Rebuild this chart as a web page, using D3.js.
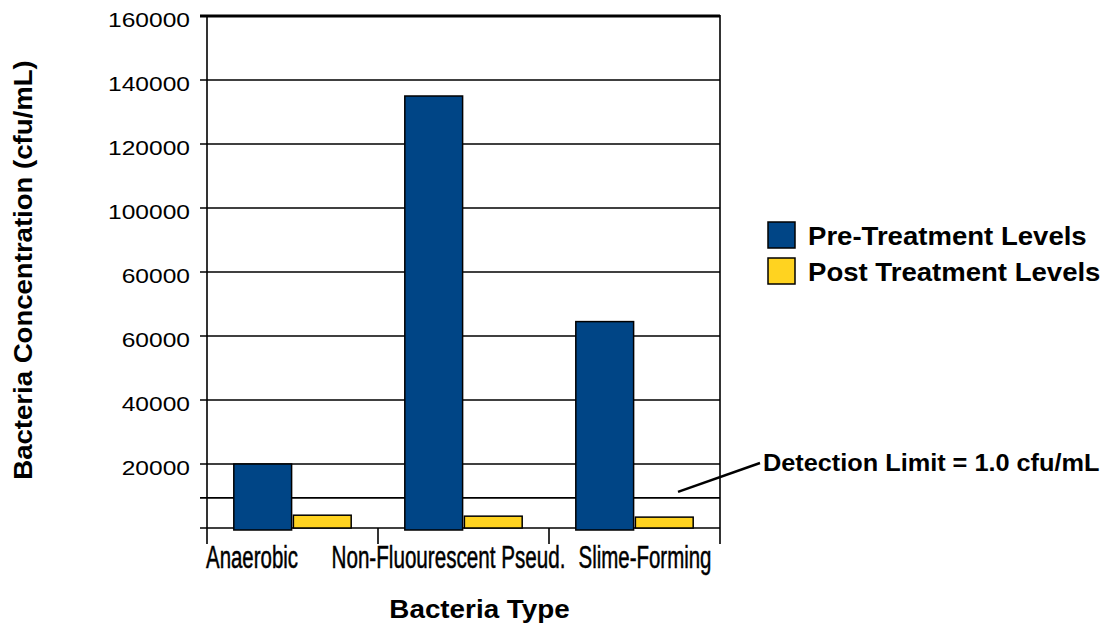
<html>
<head>
<style type="text/css">
	body { margin: 0; background: white; }
	text { font-family: "Liberation Sans", Arial, sans-serif; fill: #000; }
	.grid line { stroke: #000; }
	.bar { stroke: #000; stroke-width: 1.5; }
	.pre { fill: #004586; }
	.post { fill: #ffd320; }
	.tick-label { font-size: 21px; }
	.cat-label { font-family: "Liberation Sans Narrow", "Liberation Sans", sans-serif; font-size: 31px; stroke: #000; stroke-width: 0.5px; }
	.title { font-size: 26px; font-weight: bold; }
	.legend text { font-size: 26px; font-weight: bold; }
</style>
<script src="https://d3js.org/d3.v7.min.js"></script>
</head>
<body>
<script type="text/javascript">
	var categories = ['Anaerobic', 'Non-Fluourescent Pseud.', 'Slime-Forming'];
	var pre_values = [20000, 135000, 64500];
	var post_values = [4000, 3700, 3400];
	var series = ['Pre-Treatment Levels', 'Post Treatment Levels'];
	var tick_values = [20000, 40000, 60000, 80000, 100000, 120000, 140000, 160000];
	// the original labels 80000 as 60000
	var tick_labels = ['20000', '40000', '60000', '60000', '100000', '120000', '140000', '160000'];
	var detection_value = 9400;
	var detection_text = 'Detection Limit = 1.0 cfu/mL';

	function draw() {
		var width = 1106, height = 625;
		var plot_left = 207, plot_right = 720, plot_top = 16, plot_bottom = 528;
		var stretch = 1.17;

		var svg = d3.select('body').append('svg')
			.attr('width', width)
			.attr('height', height);

		var y = d3.scaleLinear().domain([0, 160000]).range([plot_bottom, plot_top]);
		var x = d3.scaleBand().domain(categories).range([plot_left, plot_right]);
		var inner = d3.scaleBand().domain([0, 1]).range([0, x.bandwidth()]).paddingOuter(0.45).paddingInner(0.03);
		// labels sit on their own, slightly wider spacing
		var xl = d3.scalePoint().domain(categories).range([plot_left + 45, plot_right - 75]);

		// grid lines
		var grid = svg.append('g').attr('class', 'grid');
		grid.selectAll('line.h')
			.data([0, detection_value].concat(tick_values))
			.enter().append('line')
			.attr('class', 'h')
			.attr('x1', plot_left - 7)
			.attr('x2', plot_right)
			.attr('y1', function(d) { return y(d); })
			.attr('y2', function(d) { return y(d); })
			.attr('stroke-width', function(d) { return d === 160000 ? 2.8 : 1.6; });

		// axis lines
		grid.append('line').attr('x1', plot_left).attr('x2', plot_left).attr('y1', plot_top).attr('y2', plot_bottom + 16).attr('stroke-width', 1.6);
		grid.append('line').attr('x1', plot_right).attr('x2', plot_right).attr('y1', plot_top - 1).attr('y2', plot_bottom + 16).attr('stroke-width', 1.6);
		grid.selectAll('line.cat')
			.data(categories.slice(1))
			.enter().append('line')
			.attr('class', 'cat')
			.attr('x1', function(d) { return x(d); })
			.attr('x2', function(d) { return x(d); })
			.attr('y1', plot_bottom)
			.attr('y2', plot_bottom + 16)
			.attr('stroke-width', 1.6);

		// y tick labels
		svg.selectAll('text.tick-label')
			.data(tick_values)
			.enter().append('text')
			.attr('class', 'tick-label')
			.attr('transform', function(d) { return 'translate(' + (plot_left - 17) + ',' + (y(d) + 11) + ') scale(' + stretch + ',1)'; })
			.attr('text-anchor', 'end')
			.text(function(d, i) { return tick_labels[i]; });

		// bars
		var groups = svg.selectAll('g.cat')
			.data(categories)
			.enter().append('g')
			.attr('class', 'cat')
			.attr('transform', function(d) { return 'translate(' + x(d) + ',0)'; });

		groups.append('rect')
			.attr('class', 'bar pre')
			.attr('x', inner(0))
			.attr('width', inner.bandwidth())
			.attr('y', function(d, i) { return y(pre_values[i]); })
			.attr('height', function(d, i) { return y(0) - y(pre_values[i]) + 2; });

		groups.append('rect')
			.attr('class', 'bar post')
			.attr('x', inner(1))
			.attr('width', inner.bandwidth())
			.attr('y', function(d, i) { return y(post_values[i]); })
			.attr('height', function(d, i) { return y(0) - y(post_values[i]); });

		// category labels
		var label_widths = [92, 234, 133];
		svg.selectAll('text.cat-label')
			.data(categories)
			.enter().append('text')
			.attr('class', 'cat-label')
			.attr('x', function(d, i) { return xl(d) - label_widths[i] / 2; })
			.attr('y', plot_bottom + 40)
			.attr('textLength', function(d, i) { return label_widths[i]; })
			.attr('lengthAdjust', 'spacingAndGlyphs')
			.text(function(d) { return d; });

		// axis titles
		svg.append('text')
			.attr('class', 'title')
			.attr('transform', 'translate(' + ((plot_left + plot_right) / 2 + 16) + ',618) scale(1.07,1)')
			.attr('text-anchor', 'middle')
			.text('Bacteria Type');

		svg.append('text')
			.attr('class', 'title')
			.attr('transform', 'translate(32,' + 270 + ') rotate(-90) scale(1.06,1)')
			.attr('text-anchor', 'middle')
			.text('Bacteria Concentration (cfu/mL)');

		// legend
		var legend = svg.append('g').attr('class', 'legend').attr('transform', 'translate(768,222)');
		legend.selectAll('rect')
			.data(series)
			.enter().append('rect')
			.attr('class', function(d, i) { return 'bar ' + (i === 0 ? 'pre' : 'post'); })
			.attr('x', 0)
			.attr('y', function(d, i) { return i * 36; })
			.attr('width', 27)
			.attr('height', 26);
		legend.selectAll('text')
			.data(series)
			.enter().append('text')
			.attr('transform', function(d, i) { return 'translate(40,' + (i * 36 + 23) + ') scale(1.06,1)'; })
			.text(function(d) { return d; });

		// detection limit annotation
		svg.append('line')
			.attr('x1', 678).attr('y1', y(detection_value) - 6)
			.attr('x2', 760).attr('y2', 463)
			.attr('stroke', '#000').attr('stroke-width', 2.5);
		svg.append('text')
			.attr('transform', 'translate(763,471) scale(1.1,1)')
			.attr('font-size', '23px')
			.attr('font-weight', 'bold')
			.text(detection_text);
	}

	draw();
</script>
</body>
</html>
